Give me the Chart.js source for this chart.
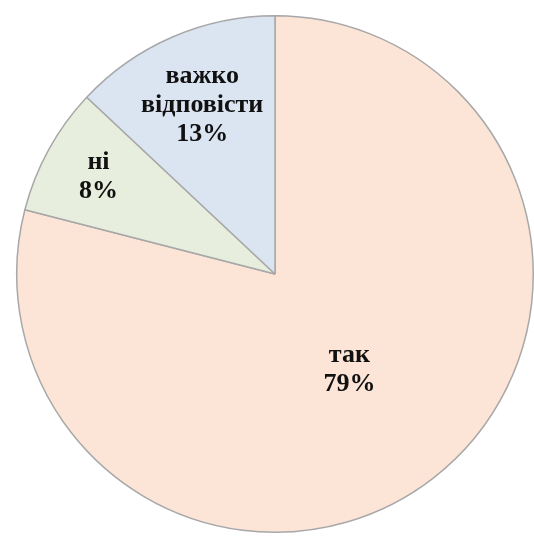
<!DOCTYPE html>
<html>
<head>
<meta charset="utf-8">
<script src="https://cdn.jsdelivr.net/npm/chart.js@4/dist/chart.umd.min.js"></script>
<style>
  html, body { margin: 0; padding: 0; background: #fff; overflow: hidden; }
  #wrap { width: 534px; height: 536px; }
</style>
</head>
<body>
<div id="wrap"><canvas id="chart" width="534" height="536"></canvas></div>
<script>
const categories = ['так', 'ні', 'важко відповісти'];
const percents = [79, 8, 13];
const sliceColors = ['#fce5d7', '#e7eedd', '#dbe4f1'];

// where each label sits, as a fraction of the radius from the centre
const labelRadius = [0.47, 0.78, 0.71];

const labelPlugin = {
    id: 'sliceLabels',
    afterDatasetsDraw(chart) {
        const ctx = chart.ctx;
        const arcs = chart.getDatasetMeta(0).data;
        ctx.save();
        ctx.font = 'bold 26px "Liberation Serif", "DejaVu Serif", serif';
        ctx.fillStyle = '#111';
        ctx.textAlign = 'center';
        ctx.textBaseline = 'middle';
        arcs.forEach((arc, i) => {
            const mid = (arc.startAngle + arc.endAngle) / 2;
            const r = arc.outerRadius * labelRadius[i];
            const x = arc.x + Math.cos(mid) * r;
            const y = arc.y + Math.sin(mid) * r;
            const lines = categories[i].split(' ').concat([percents[i] + '%']);
            const lh = 29;
            const top = y - (lines.length - 1) * lh / 2;
            lines.forEach((t, j) => ctx.fillText(t, x, top + j * lh));
        });
        ctx.restore();
    }
};

new Chart(document.getElementById('chart'), {
    type: 'pie',
    data: {
        labels: categories,
        datasets: [{
            data: percents,
            backgroundColor: sliceColors,
            borderColor: '#a8a8a8',
            borderWidth: 1.5
        }]
    },
    options: {
        responsive: false,
        animation: false,
        layout: { padding: { left: 16, right: 0, top: 14, bottom: 2 } },
        plugins: {
            legend: { display: false },
            tooltip: { enabled: false }
        }
    },
    plugins: [labelPlugin]
});
</script>
</body>
</html>
